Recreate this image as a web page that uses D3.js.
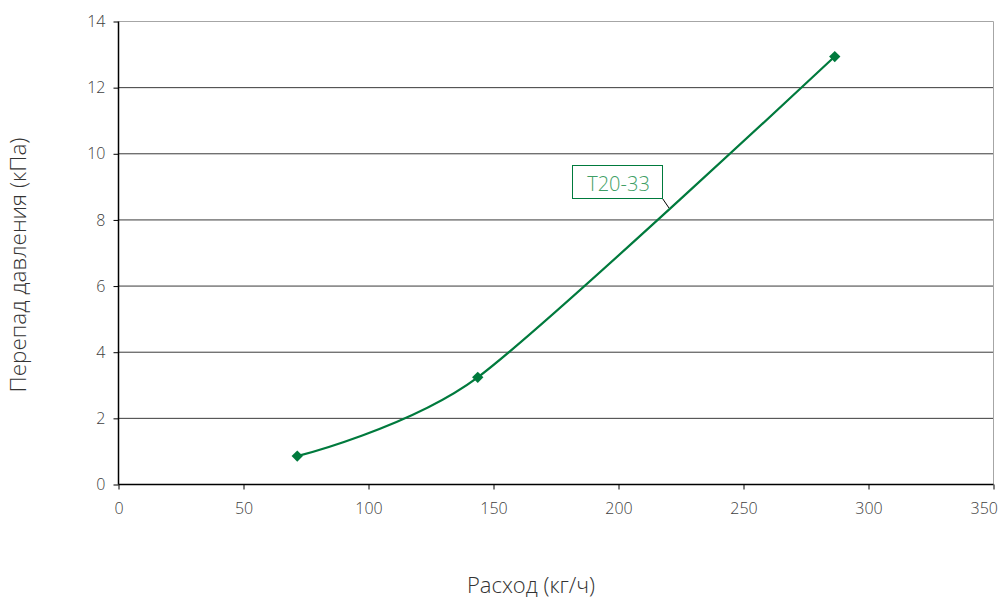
<!DOCTYPE html>
<html><head><meta charset="utf-8">
<script src="https://cdn.jsdelivr.net/npm/d3@7"></script>
<style>body{margin:0;background:#fff}svg{display:block}text{font-family:"Open Sans",sans-serif}</style>
</head><body>
<svg id="c" width="1000" height="601"></svg>
<script>
const flow = [71.5, 143.7, 286.5];
const dp = [0.86, 3.24, 12.94];
const seriesName = "T20-33";
const xTicks = [0, 50, 100, 150, 200, 250, 300, 350];
const yTicks = [0, 2, 4, 6, 8, 10, 12, 14];
const xTitle = "Расход (кг/ч)";
const yTitle = "Перепад давления (кПа)";

const svg = d3.select("#c");
const L = 118.5, R = 993.5, T = 21.5, B = 484.5;
const x = d3.scaleLinear().domain([0, 350]).range([L, R]);
const y = d3.scaleLinear().domain([0, 14]).range([B, T]);
const green = "#007a3d";

svg.append("g").selectAll("line").data(yTicks.filter(d => d > 0)).join("line")
  .attr("x1", L).attr("x2", R).attr("y1", d => y(d)).attr("y2", d => y(d))
  .attr("stroke", d => d === 14 ? "#a6a6a6" : "#3a3a3a").attr("stroke-width", 1);
svg.append("line").attr("x1", R).attr("x2", R).attr("y1", T).attr("y2", B)
  .attr("stroke", "#a6a6a6");

const yAxis = d3.axisLeft(y).tickValues(yTicks).tickSize(5).tickPadding(8).tickFormat(d3.format("d"));
const gy = svg.append("g").attr("transform", `translate(${L},0)`).call(yAxis);
const xAxis = d3.axisBottom(x).tickValues(xTicks).tickSize(5).tickPadding(13).tickFormat(d3.format("d"));
const gx = svg.append("g").attr("transform", `translate(0,${B})`).call(xAxis);
[gx, gy].forEach(g => {
  g.select(".domain").attr("stroke", "#000").attr("stroke-width", 1.5);
  g.selectAll(".tick line").attr("stroke", "#000");
  g.selectAll("text").attr("font-size", 16).attr("font-weight", 300).attr("fill", "#404040").attr("font-family", "Open Sans");
});
gx.select(".domain").attr("d", `M${L},0H${R}`);
gy.select(".domain").attr("d", `M0,${T}V${B}`);
gx.selectAll(".tick text").filter(d => d === 350).attr("text-anchor", "end").attr("dx", 4);

const pts = flow.map((f, i) => [f, dp[i]]);
svg.append("path").datum(pts)
  .attr("d", d3.line().x(d => x(d[0])).y(d => y(d[1])).curve(d3.curveCardinal.tension(0.25)))
  .attr("fill", "none").attr("stroke", green).attr("stroke-width", 2.2);
svg.append("g").selectAll("path").data(pts).join("path")
  .attr("transform", d => `translate(${x(d[0])},${y(d[1])}) rotate(45)`)
  .attr("d", "M-4,-4H4V4H-4Z").attr("fill", green);

const lx = 572.5, ly = 165.5, lw = 90, lh = 33;
svg.append("line").attr("x1", lx + lw).attr("y1", ly + lh).attr("x2", 669).attr("y2", 208)
  .attr("stroke", "#000").attr("stroke-width", 1);
svg.append("rect").attr("x", lx).attr("y", ly).attr("width", lw).attr("height", lh)
  .attr("fill", "#fff").attr("stroke", green).attr("stroke-width", 1);
svg.append("text").attr("x", lx + lw / 2 + 1).attr("y", 190.5).attr("text-anchor", "middle")
  .attr("font-size", 20).attr("font-weight", 300).attr("fill", "#3f9f66").text(seriesName);

svg.append("text").attr("x", 531).attr("y", 593).attr("text-anchor", "middle")
  .attr("font-size", 22).attr("font-weight", 300).attr("fill", "#333").text(xTitle);
svg.append("text").attr("transform", "translate(26,265) rotate(-90)").attr("text-anchor", "middle")
  .attr("font-size", 22.5).attr("font-weight", 300).attr("fill", "#333").text(yTitle);
</script>
</body></html>
